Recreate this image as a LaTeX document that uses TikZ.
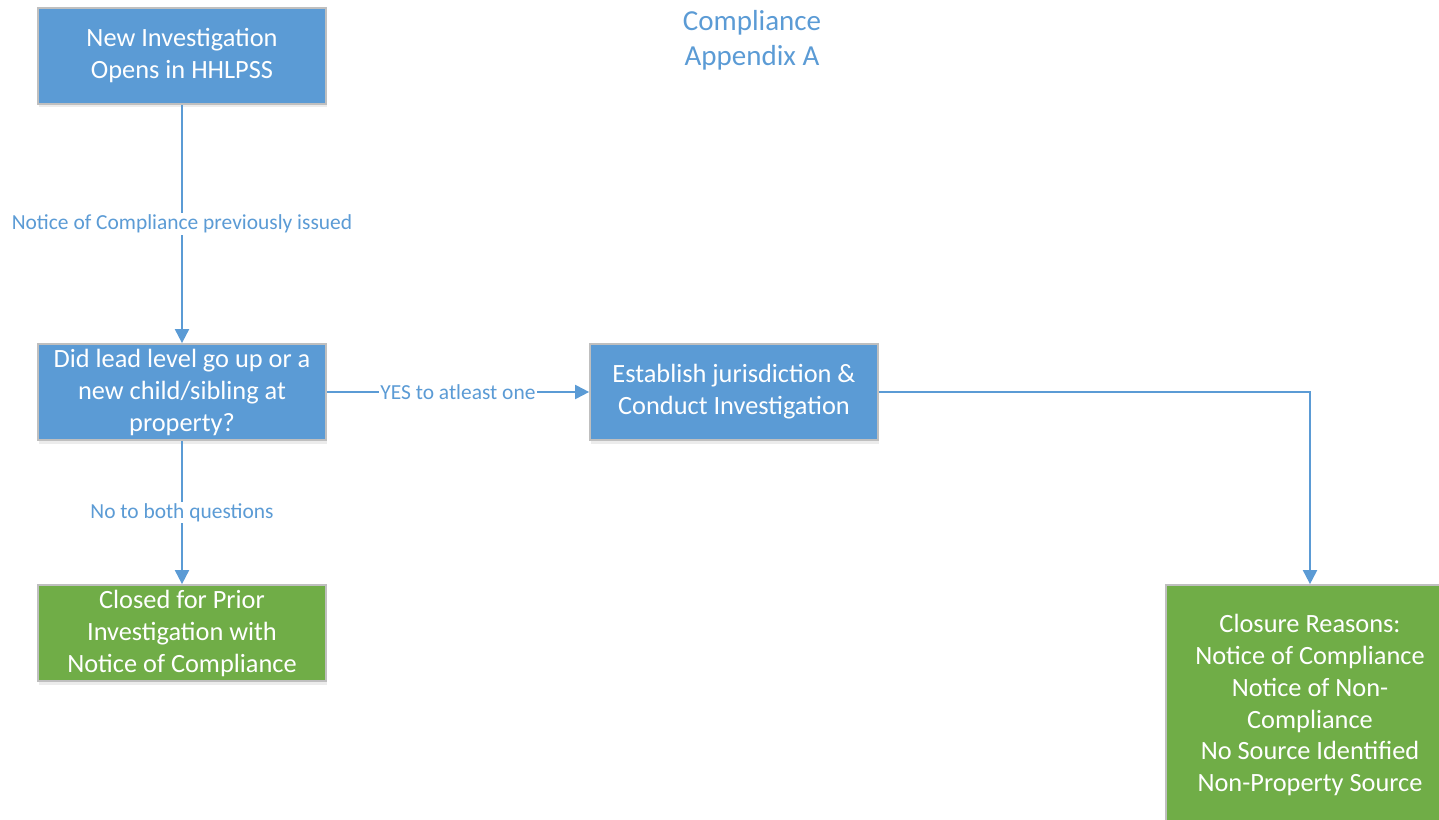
\documentclass[tikz,border=0pt]{standalone}
\usepackage{fontspec}
\setmainfont{Carlito}
\usepackage{tikz}
\usetikzlibrary{arrows.meta,shadows}
\definecolor{boxblue}{HTML}{5B9BD5}
\definecolor{boxgreen}{HTML}{70AD47}
\definecolor{boxedge}{HTML}{BFBFBF}
\tikzset{
  stepnode/.style={shape=rectangle, draw=boxedge, line width=1pt, fill=boxblue,
    text=white, align=center, minimum width=5.76cm, minimum height=1.92cm,
    inner sep=2pt, font=\fontsize{15}{18.2}\selectfont,
    drop shadow={shadow xshift=0.5pt, shadow yshift=-2pt, opacity=0.15}},
  endnode/.style={stepnode, fill=boxgreen},
  flow/.style={draw=boxblue, line width=1.1pt, -{Triangle[width=8pt,length=8pt]}},
  flowlabel/.style={fill=white, text=boxblue, inner sep=1pt, font=\fontsize{12.2}{14}\selectfont}
}
\begin{document}
\begin{tikzpicture}[x=0.02cm, y=-0.02cm]
  \useasboundingbox (0,0) rectangle (1439,820);
  \begin{scope}
  \clip (0,0) rectangle (1439,820);
     \path (182, 56) node (open) [stepnode] {New Investigation\\Opens in HHLPSS}
           (182, 392) node (check) [stepnode] {Did lead level go up or a\\new child/sibling at\\property?}
           (734, 392) node (conduct) [stepnode] {Establish jurisdiction \&\\Conduct Investigation}
           (182, 633) node (closed) [endnode] {Closed for Prior\\Investigation with\\Notice of Compliance}
           (1310, 705) node (reasons) [endnode, minimum height=4.8cm] {Closure Reasons:\\Notice of Compliance\\Notice of Non-\\Compliance\\No Source Identified\\Non-Property Source}
           (752, 40) node (title) [text=boxblue, align=center, font=\fontsize{16.5}{19.9}\selectfont] {Compliance\\Appendix A}
     ;
  \end{scope}
  \coordinate (turn) at (1310, 392);
  \draw[flow] (open) -- node[flowlabel] {Notice of Compliance previously issued} (check);
  \draw[flow] (check) -- node[flowlabel, pos=0.5] {YES to atleast one} (conduct);
  \draw[flow] (check) -- node[flowlabel, pos=0.5] {No to both questions} (closed);
  \draw[flow] (conduct) -- (turn) -- (reasons);
\end{tikzpicture}
\end{document}
